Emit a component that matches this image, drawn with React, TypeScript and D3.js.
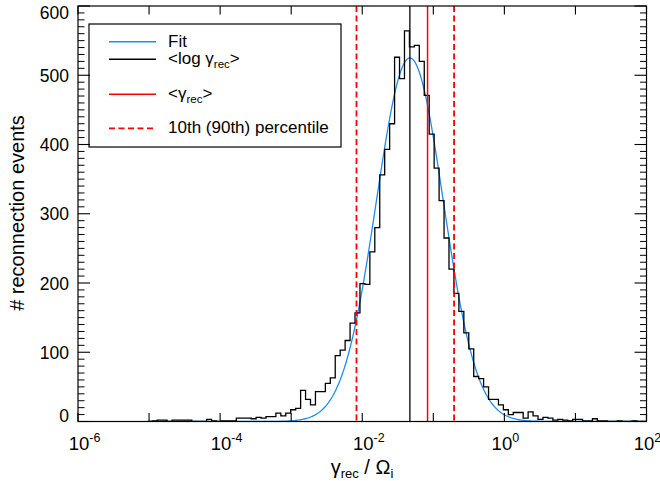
import React from "react";
import * as d3 from "d3";

const W = 660;
const H = 481;
const PL = 78, PR = 646.5, PT = 6, PB = 421.5;

const xDomain: [number, number] = [1e-6, 1e2];
const yDomain: [number, number] = [0, 600];
const xLabelExps = [-6, -4, -2, 0, 2];
const xMajorExps = [-6, -5, -4, -3, -2, -1, 0, 1, 2];
const yMajorTicks = [0, 100, 200, 300, 400, 500, 600];
const yMinorStep = 10;

// histogram in log10 bins
const binStartLog = -5.025;
const binWidthLog = 0.0696;
const counts = [
  0, 1, 2, 2, 0, 2, 2, 2, 2, 0,
  0, 0, 3, 1, 0, 1, 1, 1, 5, 5,
  5, 4, 6, 5, 7, 7, 12, 8, 12, 17,
  19, 45, 32, 24, 43, 43, 55, 63, 95, 103,
  117, 142, 157, 199, 198, 245, 280, 356, 393, 430,
  526, 495, 564, 541, 543, 520, 471, 415, 366, 319,
  265, 220, 185, 159, 128, 105, 65, 62, 50, 32,
  32, 24, 17, 10, 13, 13, 5, 14, 8, 3,
  6, 5, 2, 3, 2, 1, 3, 3, 1, 1,
  4, 1, 1, 0, 0, 1, 0, 0, 1, 0,
  0,
];

// Gaussian fit in log10 space
const fitAmp = 525;
const fitMu = -1.33;
const fitSigma = 0.471;
const fitRangeLog: [number, number] = [-5, 2];

const meanLogGamma = 0.0468;
const meanGamma = 0.083;
const pct10 = 0.0083;
const pct90 = 0.196;

const FIT_COLOR = "#1e8cf0";
const RED = "#ff0000";
const FONT = "'Liberation Sans', Arial, Helvetica, sans-serif";

export default function App() {
  const x = d3.scaleLog().domain(xDomain).range([PL, PR]);
  const y = d3.scaleLinear().domain(yDomain).range([PB, PT]);

  const edges = d3.range(counts.length + 1).map((i) => Math.pow(10, binStartLog + i * binWidthLog));
  const histPts: [number, number][] = counts.map((c, i) => [edges[i], c]);
  histPts.push([edges[counts.length], counts[counts.length - 1]]);
  const histLine = d3
    .line<[number, number]>()
    .x((d) => x(d[0]))
    .y((d) => y(d[1]))
    .curve(d3.curveStepAfter);

  const fitPts: [number, number][] = d3
    .range(0, 501)
    .map((i) => {
      const lg = fitRangeLog[0] + ((fitRangeLog[1] - fitRangeLog[0]) * i) / 500;
      const z = (lg - fitMu) / fitSigma;
      return [Math.pow(10, lg), fitAmp * Math.exp(-0.5 * z * z)];
    });
  const fitLine = d3
    .line<[number, number]>()
    .x((d) => x(d[0]))
    .y((d) => y(d[1]));

  const yMinor = d3.range(yDomain[0], yDomain[1] + 0.1, yMinorStep).filter((v) => v % 100 !== 0);

  const legendX0 = 109, legendX1 = 156, legendTX = 168;
  const legendRows = [
    { y: 41.7, color: FIT_COLOR, dash: null as string | null },
    { y: 59.3, color: "#000", dash: null },
    { y: 94.3, color: RED, dash: null },
    { y: 128.3, color: RED, dash: "6,3.5" },
  ];

  return (
    <svg width={W} height={H} style={{ display: "block", position: "absolute", left: 0, top: 0, background: "#fff" }} fontFamily={FONT}>
      <defs>
        <clipPath id="plotclip">
          <rect x={PL} y={PT} width={PR - PL} height={PB - PT} />
        </clipPath>
      </defs>
      <rect x={0} y={0} width={W} height={H} fill="#fff" />

      <g clipPath="url(#plotclip)">
        <path d={fitLine(fitPts) || ""} fill="none" stroke={FIT_COLOR} strokeWidth={1.3} />
        <path d={histLine(histPts) || ""} fill="none" stroke="#000" strokeWidth={1.3} />
        <line x1={x(meanLogGamma)} x2={x(meanLogGamma)} y1={PT} y2={PB} stroke="#000" strokeWidth={1.3} />
        <line x1={x(meanGamma)} x2={x(meanGamma)} y1={PT} y2={PB} stroke={RED} strokeWidth={1.5} />
        <line x1={x(pct10)} x2={x(pct10)} y1={PT} y2={PB} stroke={RED} strokeWidth={1.8} strokeDasharray="6,3.5" />
        <line x1={x(pct90)} x2={x(pct90)} y1={PT} y2={PB} stroke={RED} strokeWidth={1.8} strokeDasharray="6,3.5" />
      </g>

      {/* frame */}
      <rect x={PL} y={PT} width={PR - PL} height={PB - PT} fill="none" stroke="#000" strokeWidth={1.2} />

      {/* x ticks */}
      {xMajorExps.map((e) => {
        const xx = x(Math.pow(10, e));
        return (
          <g key={"xt" + e}>
            <line x1={xx} x2={xx} y1={PB} y2={PB - 8.5} stroke="#000" strokeWidth={1.1} />
            <line x1={xx} x2={xx} y1={PT} y2={PT + 8.5} stroke="#000" strokeWidth={1.1} />
          </g>
        );
      })}
      {xLabelExps.map((e) => {
        const xx = x(Math.pow(10, e)) + (e < 0 ? 6.5 : 1);
        return (
          <text key={"xl" + e} x={xx} y={450} fontSize={18.5} textAnchor="middle" fill="#000">
            <tspan>10</tspan>
            <tspan fontSize={12.5} dy={-8}>{String(e)}</tspan>
          </text>
        );
      })}

      {/* y ticks */}
      {yMajorTicks.map((v) => (
        <g key={"yt" + v}>
          <line x1={PL} x2={PL + 12} y1={y(v)} y2={y(v)} stroke="#000" strokeWidth={1.1} />
          <line x1={PR} x2={PR - 12} y1={y(v)} y2={y(v)} stroke="#000" strokeWidth={1.1} />
          <text x={69} y={Math.min(Math.max(y(v) + 6.5, PT + 13), PB)} fontSize={17.5} textAnchor="end" fill="#000">
            {v}
          </text>
        </g>
      ))}
      {yMinor.map((v) => (
        <g key={"ym" + v}>
          <line x1={PL} x2={PL + 6.5} y1={y(v)} y2={y(v)} stroke="#000" strokeWidth={1} />
          <line x1={PR} x2={PR - 6.5} y1={y(v)} y2={y(v)} stroke="#000" strokeWidth={1} />
        </g>
      ))}

      {/* axis titles */}
      <text x={362} y={474} fontSize={20} textAnchor="middle" fill="#000">
        <tspan>γ</tspan>
        <tspan fontSize={13} dy={4}>rec</tspan>
        <tspan dy={-4}> / Ω</tspan>
        <tspan fontSize={13} dy={4}>i</tspan>
      </text>
      <text transform="translate(24,213) rotate(-90)" fontSize={20} textAnchor="middle" fill="#000">
        # reconnection events
      </text>

      {/* legend */}
      <rect x={89} y={24} width={252} height={123} fill="none" stroke="#000" strokeWidth={1.2} />
      {legendRows.map((r, i) => (
        <line key={"lg" + i} x1={legendX0} x2={legendX1} y1={r.y} y2={r.y} stroke={r.color} strokeWidth={r.dash ? 1.8 : 1.4} strokeDasharray={r.dash || undefined} />
      ))}
      <text x={legendTX} y={legendRows[0].y + 5} fontSize={17} fill="#000">Fit</text>
      <text x={legendTX} y={legendRows[1].y + 5} fontSize={17} fill="#000">
        <tspan>&lt;log γ</tspan>
        <tspan fontSize={11.5} dy={4}>rec</tspan>
        <tspan dy={-4}>&gt;</tspan>
      </text>
      <text x={legendTX} y={legendRows[2].y + 5} fontSize={17} fill="#000">
        <tspan>&lt;γ</tspan>
        <tspan fontSize={11.5} dy={4}>rec</tspan>
        <tspan dy={-4}>&gt;</tspan>
      </text>
      <text x={legendTX} y={legendRows[3].y + 5} fontSize={17} fill="#000">10th (90th) percentile</text>
    </svg>
  );
}
